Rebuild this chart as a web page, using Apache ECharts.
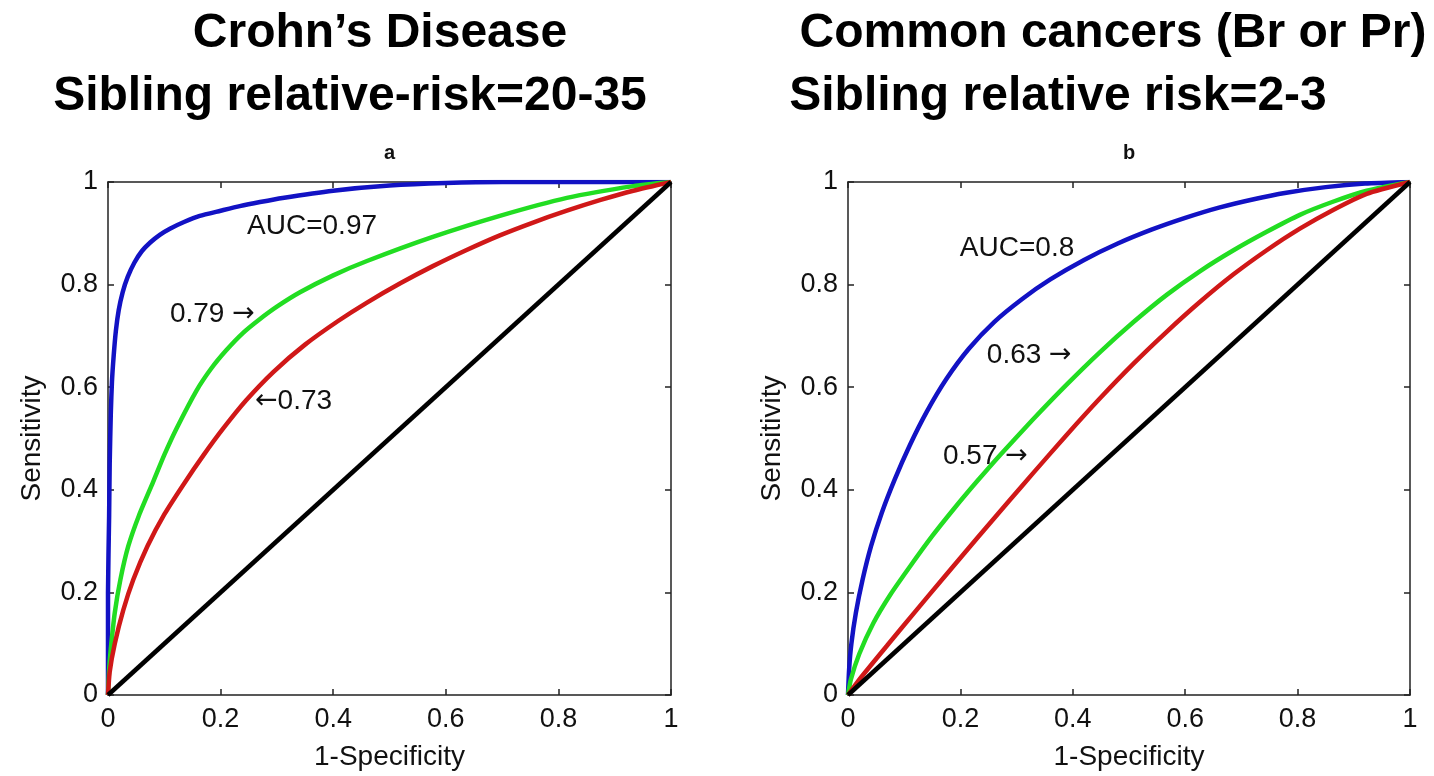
<!DOCTYPE html>
<html>
<head>
<meta charset="utf-8">
<script src="https://cdn.jsdelivr.net/npm/echarts@6/dist/echarts.min.js"></script>
<style>
  html, body { margin: 0; padding: 0; background: #fff; }
  #chart { width: 1434px; height: 776px; }
</style>
</head>
<body>
<div id="chart"></div>
<script>
// Panel headings
const headingsA = ['Crohn\u2019s Disease', 'Sibling relative-risk=20-35'];
const headingsB = ['Common cancers (Br or Pr)', 'Sibling relative risk=2-3'];
const panelLetters = ['a', 'b'];
const xAxisName = '1-Specificity';
const yAxisName = 'Sensitivity';
const axisTicks = [0, 0.2, 0.4, 0.6, 0.8, 1];

// ROC curves, points are [1-specificity, sensitivity]
const crohnHigh = [[0,0],[0,0.2],[0.002,0.35],[0.003,0.45],[0.005,0.55],[0.007,0.61],[0.01,0.66],[0.014,0.71],[0.019,0.75],[0.026,0.785],[0.035,0.815],[0.047,0.843],[0.06,0.865],[0.075,0.882],[0.092,0.897],[0.11,0.909],[0.135,0.922],[0.163,0.934],[0.2,0.944],[0.234,0.953],[0.27,0.961],[0.31,0.969],[0.4,0.983],[0.5,0.993],[0.6,0.998],[0.7,1],[1,1]];
const crohnMid = [[0,0],[0.002,0.05],[0.005,0.09],[0.012,0.16],[0.022,0.225],[0.036,0.29],[0.055,0.35],[0.08,0.415],[0.1,0.468],[0.122,0.52],[0.157,0.593],[0.183,0.636],[0.21,0.672],[0.24,0.706],[0.27,0.733],[0.3,0.757],[0.341,0.785],[0.4,0.818],[0.46,0.846],[0.577,0.893],[0.696,0.934],[0.815,0.969],[0.933,0.992],[1,1]];
const crohnLow = [[0,0],[0.003,0.045],[0.012,0.1],[0.027,0.165],[0.045,0.225],[0.07,0.29],[0.1,0.352],[0.135,0.412],[0.17,0.468],[0.205,0.52],[0.245,0.574],[0.294,0.63],[0.35,0.683],[0.41,0.73],[0.46,0.765],[0.52,0.803],[0.577,0.836],[0.636,0.867],[0.696,0.896],[0.755,0.921],[0.815,0.944],[0.875,0.965],[0.933,0.983],[1,1]];

const cancerHigh = [[0,0],[0.002,0.05],[0.006,0.1],[0.014,0.16],[0.026,0.225],[0.041,0.29],[0.06,0.355],[0.083,0.42],[0.11,0.487],[0.14,0.552],[0.175,0.616],[0.215,0.675],[0.26,0.727],[0.31,0.772],[0.36,0.81],[0.42,0.848],[0.48,0.88],[0.54,0.907],[0.6,0.93],[0.66,0.95],[0.72,0.966],[0.78,0.979],[0.85,0.99],[0.92,0.997],[1,1]];
const cancerMid = [[0,0],[0.005,0.03],[0.02,0.08],[0.045,0.14],[0.075,0.195],[0.11,0.25],[0.15,0.31],[0.19,0.365],[0.23,0.417],[0.27,0.467],[0.329,0.537],[0.389,0.605],[0.448,0.668],[0.508,0.727],[0.567,0.78],[0.626,0.826],[0.686,0.867],[0.745,0.903],[0.804,0.936],[0.864,0.962],[0.923,0.983],[1,1]];
const cancerLow = [[0,0],[0.02,0.03],[0.07,0.097],[0.12,0.163],[0.175,0.235],[0.23,0.306],[0.288,0.38],[0.329,0.432],[0.389,0.507],[0.448,0.578],[0.508,0.646],[0.567,0.708],[0.626,0.766],[0.686,0.82],[0.745,0.867],[0.804,0.909],[0.864,0.946],[0.923,0.977],[1,1]];

const chance = [[0,0],[1,1]];

// Curve annotations
const notesA = ['AUC=0.97', '0.79 \u2192', '\u21900.73'];
const notesB = ['AUC=0.8', '0.63 \u2192', '0.57 \u2192'];
</script>
<script>
const FONT = "'Liberation Sans', Arial, Helvetica, sans-serif";
const ARROW_FONT = "'DejaVu Sans', sans-serif";
const AXIS_COLOR = '#222';
const COLORS = { high: '#1212c4', mid: '#22dd22', low: '#d01818', chance: '#000' };

const chart = echarts.init(document.getElementById('chart'), null, { renderer: 'canvas' });

const grids = [
  { left: 108, top: 182, width: 563, height: 514 },
  { left: 848, top: 182, width: 562, height: 514 }
];

const tickMin = axisTicks[0];
const tickMax = axisTicks[axisTicks.length - 1];
const tickStep = axisTicks[1] - axisTicks[0];

function valueAxis(gridIndex, position, withLabels, name) {
  const isX = position === 'bottom' || position === 'top';
  return {
    type: 'value', gridIndex, position,
    min: tickMin, max: tickMax, interval: tickStep,
    name: withLabels ? name : '',
    nameLocation: 'middle',
    nameGap: isX ? 48 : 62,
    nameTextStyle: { fontFamily: FONT, fontSize: 28, color: '#111' },
    axisLine: { show: true, onZero: false, lineStyle: { color: AXIS_COLOR, width: 1.5 } },
    axisTick: { show: true, inside: true, length: 6, lineStyle: { color: AXIS_COLOR, width: 1.5 } },
    axisLabel: {
      show: withLabels, fontFamily: FONT, fontSize: 27, color: '#111',
      margin: isX ? 11 : 10
    },
    splitLine: { show: false }
  };
}

const xAxes = [], yAxes = [];
[0, 1].forEach(g => {
  xAxes.push(valueAxis(g, 'bottom', true, xAxisName));
  xAxes.push(valueAxis(g, 'top', false, ''));
  yAxes.push(valueAxis(g, 'left', true, yAxisName));
  yAxes.push(valueAxis(g, 'right', false, ''));
});

function curve(data, color, panel) {
  return {
    type: 'line', data, xAxisIndex: panel * 2, yAxisIndex: panel * 2,
    showSymbol: false, smooth: 0.2, silent: true,
    lineStyle: { color, width: 4.5 }
  };
}

const series = [
  curve(crohnHigh, COLORS.high, 0),
  curve(crohnMid, COLORS.mid, 0),
  curve(crohnLow, COLORS.low, 0),
  curve(chance, COLORS.chance, 0),
  curve(cancerHigh, COLORS.high, 1),
  curve(cancerMid, COLORS.mid, 1),
  curve(cancerLow, COLORS.low, 1),
  curve(chance, COLORS.chance, 1)
];

chart.setOption({
  backgroundColor: '#fff',
  animation: false,
  grid: grids.map(g => Object.assign({ show: false, containLabel: false }, g)),
  xAxis: xAxes,
  yAxis: yAxes,
  series
});

// Text placed in panel data coordinates: [panel, x, y]
const noteAnchors = [
  [0, 0.247, 0.913], [0, 0.110, 0.742], [0, 0.261, 0.573],
  [1, 0.199, 0.870], [1, 0.247, 0.662], [1, 0.169, 0.466]
];
const noteTexts = notesA.concat(notesB);

const graphics = [];
noteTexts.forEach((t, i) => {
  const [panel, dx, dy] = noteAnchors[i];
  const p = chart.convertToPixel({ gridIndex: panel }, [dx, dy]);
  graphics.push({
    type: 'text', x: p[0], y: p[1], silent: true,
    style: {
      text: t.replace(/([\u2190\u2192])/g, '{ar|$1}'),
      font: '28px ' + FONT, fill: '#111', align: 'left', verticalAlign: 'middle',
      rich: { ar: { fontFamily: ARROW_FONT, fontSize: 27, fill: '#111' } }
    }
  });
});

function heading(text, cx, cy) {
  graphics.push({
    type: 'text', x: cx, y: cy, silent: true,
    style: { text, font: 'bold 48px ' + FONT, fill: '#000', align: 'center', verticalAlign: 'middle' }
  });
}
heading(headingsA[0], 380, 34);
heading(headingsA[1], 350, 97);
heading(headingsB[0], 1113, 34);
heading(headingsB[1], 1058, 97);

panelLetters.forEach((letter, i) => {
  const g = grids[i];
  graphics.push({
    type: 'text', x: g.left + g.width / 2, y: 153, silent: true,
    style: { text: letter, font: 'bold 20px ' + FONT, fill: '#111', align: 'center', verticalAlign: 'middle' }
  });
});

chart.setOption({ graphic: graphics });
</script>
</body>
</html>
